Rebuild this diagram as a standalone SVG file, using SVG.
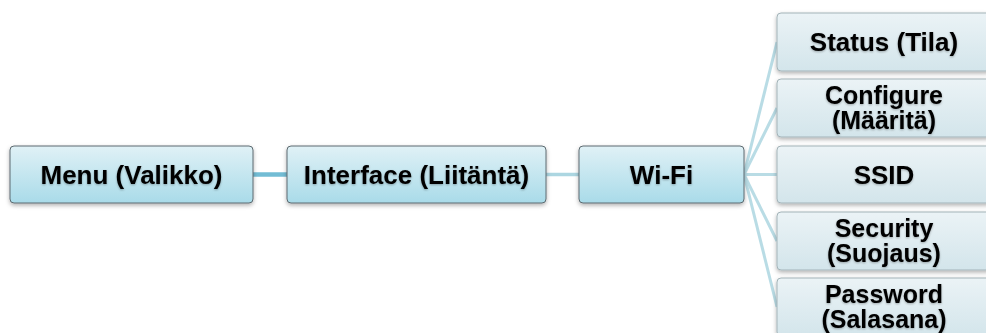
<svg xmlns="http://www.w3.org/2000/svg" width="986" height="333" viewBox="0 0 986 333">
  <style>
    .lbl { font-family: "Liberation Sans", Arial, sans-serif; font-weight: bold; font-size: 26px; fill: #000; text-anchor: middle; filter: url(#tshadow); }
    .sm { font-size: 25px; }
    .main { fill: url(#gMain); stroke: #5d6b70; stroke-width: 1; filter: url(#bshadow); }
    .sub { fill: url(#gSub); stroke: #a3b3b8; stroke-width: 1; filter: url(#bshadow); }
    .c1 { stroke: #72bcd4; stroke-width: 4.5; fill: none; }
    .c2 { stroke: #acd6e1; stroke-width: 3.5; fill: none; }
    .c3 { stroke: #b9dce5; stroke-width: 3; fill: none; }
  </style>
  <defs>
    <linearGradient id="gMain" x1="0" y1="0" x2="0" y2="1">
      <stop offset="0" stop-color="#e0f1f6"/>
      <stop offset="1" stop-color="#a9dbe9"/>
    </linearGradient>
    <linearGradient id="gSub" x1="0" y1="0" x2="0" y2="1">
      <stop offset="0" stop-color="#ebf3f6"/>
      <stop offset="1" stop-color="#d3e5eb"/>
    </linearGradient>
    <filter id="bshadow" x="-10%" y="-20%" width="120%" height="150%">
      <feDropShadow dx="0" dy="2" stdDeviation="2" flood-color="#000" flood-opacity="0.3"/>
    </filter>
    <filter id="tshadow" x="-10%" y="-30%" width="120%" height="160%">
      <feDropShadow dx="0" dy="1" stdDeviation="1.2" flood-color="#000" flood-opacity="0.3"/>
    </filter>
  </defs>

  <g id="connectors">
    <line class="c1" x1="253" y1="174.5" x2="287" y2="174.5"/>
    <line class="c2" x1="546" y1="174.5" x2="579" y2="174.5"/>
    <line class="c3" x1="744" y1="174.5" x2="777" y2="42"/>
    <line class="c3" x1="744" y1="174.5" x2="777" y2="108"/>
    <line class="c3" x1="744" y1="174.5" x2="777" y2="174.5"/>
    <line class="c3" x1="744" y1="174.5" x2="777" y2="241"/>
    <line class="c3" x1="744" y1="174.5" x2="777" y2="307"/>
  </g>

  <g id="menu">
    <rect class="main" x="10" y="146" width="243" height="57" rx="4"/>
    <text class="lbl" x="131.5" y="183.5">Menu (Valikko)</text>
  </g>
  <g id="interface">
    <rect class="main" x="287" y="146" width="259" height="57" rx="4"/>
    <text class="lbl" x="416.5" y="183.5">Interface (Liitäntä)</text>
  </g>
  <g id="wifi">
    <rect class="main" x="579" y="146" width="165" height="57" rx="4"/>
    <text class="lbl" x="661.5" y="183.5">Wi-Fi</text>
  </g>

  <g id="status">
    <rect class="sub" x="777" y="13" width="214" height="58" rx="4"/>
    <text class="lbl" x="884" y="51">Status (Tila)</text>
  </g>
  <g id="configure">
    <rect class="sub" x="777" y="79" width="214" height="58" rx="4"/>
    <text class="lbl sm" x="884" y="103.5">Configure</text>
    <text class="lbl sm" x="884" y="128.5">(Määritä)</text>
  </g>
  <g id="ssid">
    <rect class="sub" x="777" y="146" width="214" height="57" rx="4"/>
    <text class="lbl" x="884" y="183.5">SSID</text>
  </g>
  <g id="security">
    <rect class="sub" x="777" y="212" width="214" height="58" rx="4"/>
    <text class="lbl sm" x="884" y="236.5">Security</text>
    <text class="lbl sm" x="884" y="261.5">(Suojaus)</text>
  </g>
  <g id="password">
    <rect class="sub" x="777" y="278" width="214" height="58" rx="4"/>
    <text class="lbl sm" x="884" y="302.5">Password</text>
    <text class="lbl sm" x="884" y="327.5">(Salasana)</text>
  </g>
</svg>
